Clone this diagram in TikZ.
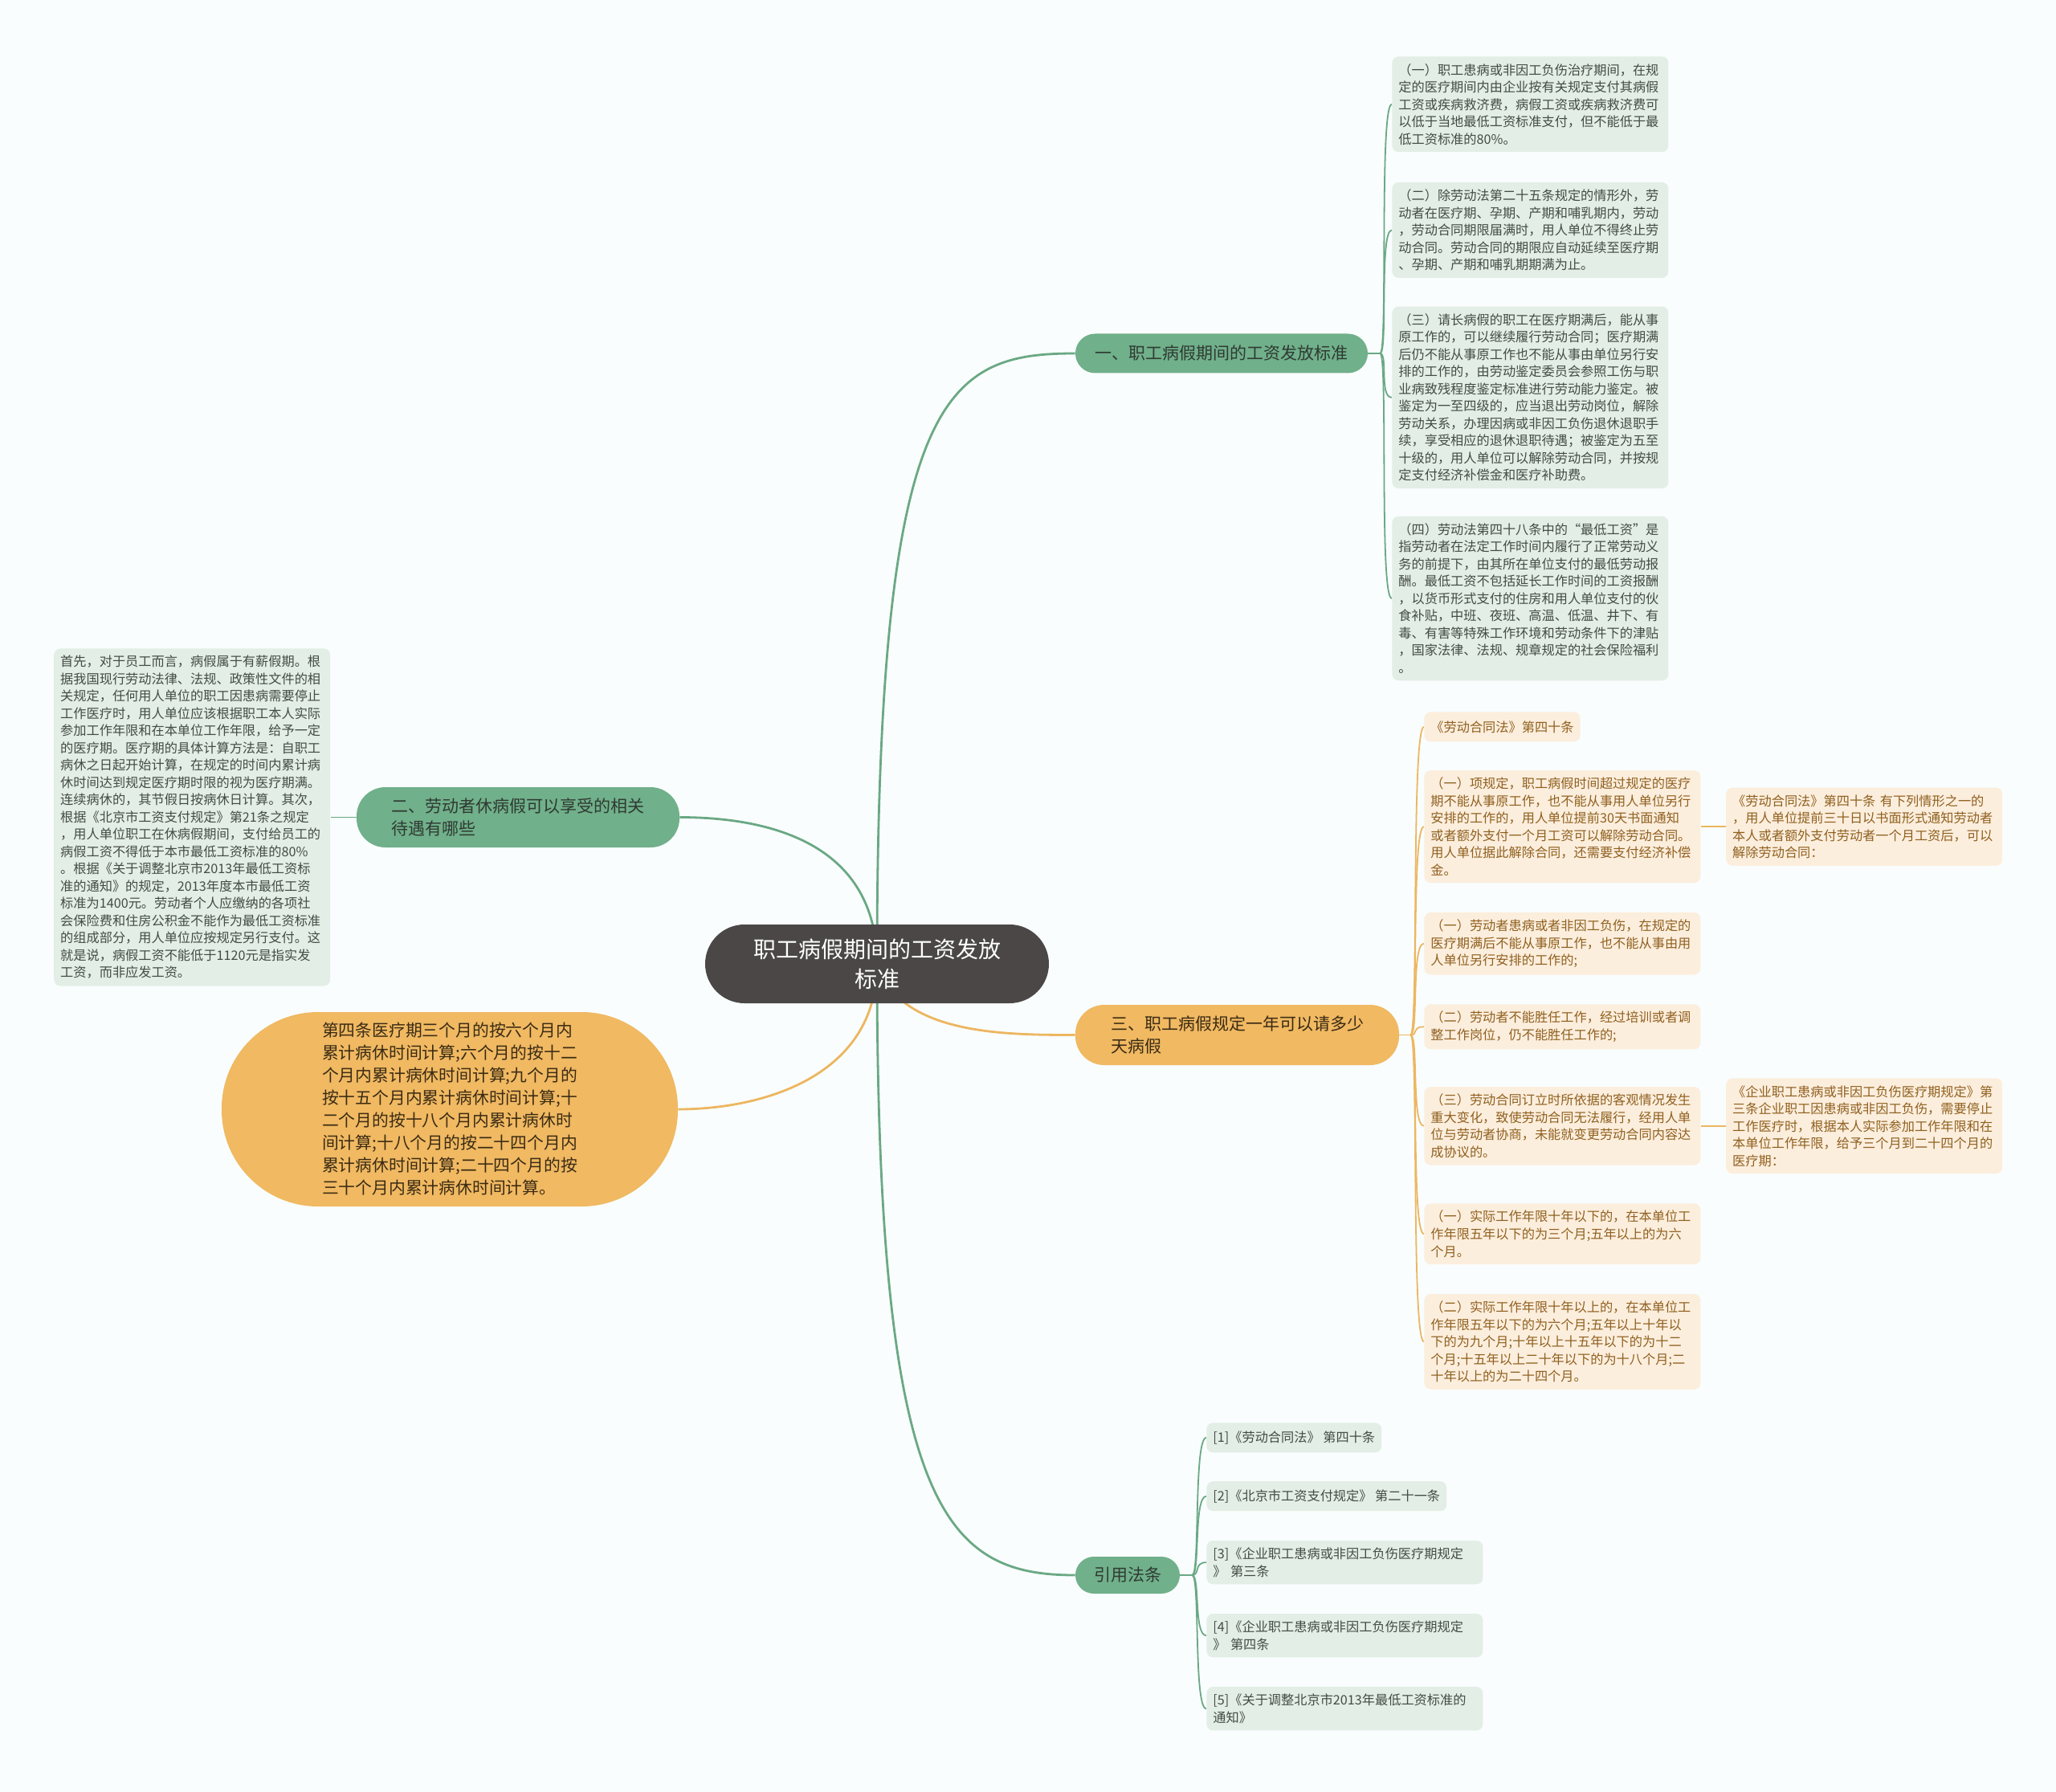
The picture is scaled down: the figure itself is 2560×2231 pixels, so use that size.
\documentclass[tikz,border=0pt]{standalone}
\usepackage{fontspec}
\newfontfamily\cjk{Noto Sans CJK SC}
\usetikzlibrary{positioning}
\definecolor{bgcol}{HTML}{F9FDFD}
\definecolor{rootfill}{HTML}{4B4747}
\definecolor{mgreen}{HTML}{70B08A}
\definecolor{lgreen}{HTML}{E3EEE6}
\definecolor{morange}{HTML}{F0B962}
\definecolor{lorange}{HTML}{FCEEDD}
\definecolor{greenline}{HTML}{6AA884}
\definecolor{orangeline}{HTML}{EDB660}
\definecolor{branchtxt}{HTML}{2F3A33}
\definecolor{orangetxt}{HTML}{3B2B14}
\definecolor{leaftxt}{HTML}{434B45}
\definecolor{leafbrown}{HTML}{8F601F}
\pgfdeclarelayer{bg}
\pgfsetlayers{bg,main}
\tikzset{
  topic/.style={rectangle, rounded corners=24.5pt, fill=rootfill, text=white, align=center,
    font=\cjk\fontsize{14}{18.5}\selectfont, minimum width=214pt, minimum height=49pt},
  branchg/.style={rectangle, fill=mgreen, text=branchtxt, align=left, inner sep=0pt,
    font=\cjk\fontsize{10.5}{13.9}\selectfont},
  brancho/.style={branchg, fill=morange, text=orangetxt},
  leafg/.style={rectangle, rounded corners=4pt, fill=lgreen, text=leaftxt, align=left,
    font=\cjk\fontsize{8.1}{10.75}\selectfont, inner xsep=4pt, inner ysep=4.4pt, minimum height=18.5pt},
  leafo/.style={leafg, fill=lorange, text=leafbrown},
  wide/.style={text width=164pt},
  gline/.style={draw=greenline, line width=1.4pt},
  oline/.style={draw=orangeline, line width=1.4pt},
  gthin/.style={draw=greenline, line width=0.9pt},
  othin/.style={draw=orangeline, line width=0.9pt}
}
\begin{document}
\begin{tikzpicture}[x=0.5pt, y=-0.5pt]
\begin{pgfonlayer}{bg}
\fill[bgcol] (0,0) rectangle (2560,2231);
\end{pgfonlayer}
\useasboundingbox (0,0) rectangle (2560,2231);

\node[topic] (root) at (1092,1200) {职工病假期间的工资发放\\标准};
\node[branchg, rounded corners=12.25pt, minimum width=182pt, minimum height=24.5pt, align=center] (b1) at (1521,440) {一、职工病假期间的工资发放标准};
\node[branchg, rounded corners=18pt, minimum width=201pt, minimum height=37.5pt] (b2) at (645,1017.5) {二、劳动者休病假可以享受的相关\\待遇有哪些};
\node[brancho, rounded corners=18pt, minimum width=201.5pt, minimum height=37.5pt] (b3) at (1540.5,1288.5) {三、职工病假规定一年可以请多少\\天病假};
\node[branchg, rounded corners=11.5pt, minimum width=65pt, minimum height=23pt] (b4) at (1404,1961) {引用法条};
\node[brancho, rounded corners=60pt, minimum width=284pt, minimum height=121pt, font=\cjk\fontsize{10.4}{14}\selectfont] (b5) at (560,1381) {第四条医疗期三个月的按六个月内\\累计病休时间计算;六个月的按十二\\个月内累计病休时间计算;九个月的\\按十五个月内累计病休时间计算;十\\二个月的按十八个月内累计病休时\\间计算;十八个月的按二十四个月内\\累计病休时间计算;二十四个月的按\\三十个月内累计病休时间计算。};

\node[leafg, wide, anchor=north west] (g1) at (1733,70) {（一）职工患病或非因工负伤治疗期间，在规\\定的医疗期间内由企业按有关规定支付其病假\\工资或疾病救济费，病假工资或疾病救济费可\\以低于当地最低工资标准支付，但不能低于最\\低工资标准的80\%。};
\node[leafg, wide, below=18.5pt of g1.south west, anchor=north west] (g2) {（二）除劳动法第二十五条规定的情形外，劳\\动者在医疗期、孕期、产期和哺乳期内，劳动\\，劳动合同期限届满时，用人单位不得终止劳\\动合同。劳动合同的期限应自动延续至医疗期\\、孕期、产期和哺乳期期满为止。};
\node[leafg, wide, below=17.5pt of g2.south west, anchor=north west] (g3) {（三）请长病假的职工在医疗期满后，能从事\\原工作的，可以继续履行劳动合同；医疗期满\\后仍不能从事原工作也不能从事由单位另行安\\排的工作的，由劳动鉴定委员会参照工伤与职\\业病致残程度鉴定标准进行劳动能力鉴定。被\\鉴定为一至四级的，应当退出劳动岗位，解除\\劳动关系，办理因病或非因工负伤退休退职手\\续，享受相应的退休退职待遇；被鉴定为五至\\十级的，用人单位可以解除劳动合同，并按规\\定支付经济补偿金和医疗补助费。};
\node[leafg, wide, below=17pt of g3.south west, anchor=north west] (g4) {（四）劳动法第四十八条中的“最低工资”是\\指劳动者在法定工作时间内履行了正常劳动义\\务的前提下，由其所在单位支付的最低劳动报\\酬。最低工资不包括延长工作时间的工资报酬\\，以货币形式支付的住房和用人单位支付的伙\\食补贴，中班、夜班、高温、低温、井下、有\\毒、有害等特殊工作环境和劳动条件下的津贴\\，国家法律、法规、规章规定的社会保险福利\\。};

\node[leafg, wide, left=16pt of b2] (l1) {首先，对于员工而言，病假属于有薪假期。根\\据我国现行劳动法律、法规、政策性文件的相\\关规定，任何用人单位的职工因患病需要停止\\工作医疗时，用人单位应该根据职工本人实际\\参加工作年限和在本单位工作年限，给予一定\\的医疗期。医疗期的具体计算方法是：自职工\\病休之日起开始计算，在规定的时间内累计病\\休时间达到规定医疗期时限的视为医疗期满。\\连续病休的，其节假日按病休日计算。其次，\\根据《北京市工资支付规定》第21条之规定\\，用人单位职工在休病假期间，支付给员工的\\病假工资不得低于本市最低工资标准的80\%\\。根据《关于调整北京市2013年最低工资标\\准的通知》的规定，2013年度本市最低工资\\标准为1400元。劳动者个人应缴纳的各项社\\会保险费和住房公积金不能作为最低工资标准\\的组成部分，用人单位应按规定另行支付。这\\就是说，病假工资不能低于1120元是指实发\\工资，而非应发工资。};

\node[leafo, anchor=north west] (o1) at (1773,886) {《劳动合同法》第四十条};
\node[leafo, wide, below=17.5pt of o1.south west, anchor=north west] (o2) {（一）项规定，职工病假时间超过规定的医疗\\期不能从事原工作，也不能从事用人单位另行\\安排的工作的，用人单位提前30天书面通知\\或者额外支付一个月工资可以解除劳动合同。\\用人单位据此解除合同，还需要支付经济补偿\\金。};
\node[leafo, wide, below=18pt of o2.south west, anchor=north west] (o3) {（一）劳动者患病或者非因工负伤，在规定的\\医疗期满后不能从事原工作，也不能从事由用\\人单位另行安排的工作的;};
\node[leafo, wide, below=18pt of o3.south west, anchor=north west] (o4) {（二）劳动者不能胜任工作，经过培训或者调\\整工作岗位，仍不能胜任工作的;};
\node[leafo, wide, below=23pt of o4.south west, anchor=north west] (o5) {（三）劳动合同订立时所依据的客观情况发生\\重大变化，致使劳动合同无法履行，经用人单\\位与劳动者协商，未能就变更劳动合同内容达\\成协议的。};
\node[leafo, wide, below=23.5pt of o5.south west, anchor=north west] (o6) {（一）实际工作年限十年以下的，在本单位工\\作年限五年以下的为三个月;五年以上的为六\\个月。};
\node[leafo, wide, below=18pt of o6.south west, anchor=north west] (o7) {（二）实际工作年限十年以上的，在本单位工\\作年限五年以下的为六个月;五年以上十年以\\下的为九个月;十年以上十五年以下的为十二\\个月;十五年以上二十年以下的为十八个月;二\\十年以上的为二十四个月。};

\node[leafo, wide, right=15.5pt of o2] (r1) {《劳动合同法》第四十条 有下列情形之一的\\，用人单位提前三十日以书面形式通知劳动者\\本人或者额外支付劳动者一个月工资后，可以\\解除劳动合同：};
\node[leafo, wide, right=15.5pt of o5] (r2) {《企业职工患病或非因工负伤医疗期规定》第\\三条企业职工因患病或非因工负伤，需要停止\\工作医疗时，根据本人实际参加工作年限和在\\本单位工作年限，给予三个月到二十四个月的\\医疗期：};

\node[leafg, anchor=north west] (f1) at (1502,1771) {[1]《劳动合同法》 第四十条};
\node[leafg, below=17.5pt of f1.south west, anchor=north west] (f2) {[2]《北京市工资支付规定》 第二十一条};
\node[leafg, wide, below=18pt of f2.south west, anchor=north west] (f3) {[3]《企业职工患病或非因工负伤医疗期规定\\》 第三条};
\node[leafg, wide, below=18pt of f3.south west, anchor=north west] (f4) {[4]《企业职工患病或非因工负伤医疗期规定\\》 第四条};
\node[leafg, wide, below=18pt of f4.south west, anchor=north west] (f5) {[5]《关于调整北京市2013年最低工资标准的\\通知》};

\coordinate (j1) at ([xshift=7.5pt]b1.east);
\coordinate (j3) at ([xshift=7pt]b3.east);
\coordinate (j4) at ([xshift=7.5pt]b4.east);

\begin{pgfonlayer}{bg}
\draw[gline] (root.center) .. controls (1092,490) and (1176,440) .. (b1.west);
\draw[gline] (root.center) .. controls (1092,1040) and (940,1017.5) .. (b2.east);
\draw[oline] (root.center) .. controls (1120,1288) and (1250,1288.5) .. (b3.west);
\draw[gline] (root.center) .. controls (1092,1878) and (1176,1961) .. (b4.west);
\draw[oline] (root.center) .. controls (1092,1340) and (950,1381) .. (b5.east);

\draw[gthin] (b1.east) -- (j1);
\foreach \c in {g1,g2,g3,g4}
  \draw[gthin] (j1) .. controls +(5pt,0) and +(-8pt,0) .. (\c.west);
\draw[othin] (b3.east) -- (j3);
\foreach \c in {o1,o2,o3,o4,o5,o6,o7}
  \draw[othin] (j3) .. controls +(5pt,0) and +(-8pt,0) .. (\c.west);
\draw[gthin] (b4.east) -- (j4);
\foreach \c in {f1,f2,f3,f4,f5}
  \draw[gthin] (j4) .. controls +(5pt,0) and +(-8pt,0) .. (\c.west);

\draw[gthin] (b2.west) -- (l1.east);
\draw[othin] (o2.east) -- (r1.west);
\draw[othin] (o5.east) -- (r2.west);
\end{pgfonlayer}
\end{tikzpicture}
\end{document}
